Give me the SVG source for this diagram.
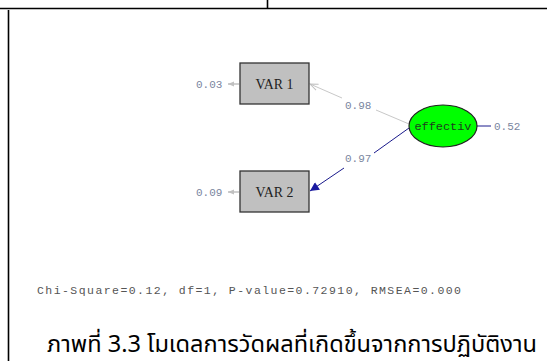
<svg xmlns="http://www.w3.org/2000/svg" width="547" height="361" viewBox="0 0 547 361">
<defs>
<style>
.frame{stroke:#000;stroke-width:1.6;fill:none}
.box{fill:#c0c0c0;stroke:#333;stroke-width:1.3}
.vtxt{font-family:"Liberation Serif",serif;font-size:15px;fill:#222;text-anchor:middle}
.num{font-family:"Liberation Mono",monospace;font-size:11px;fill:#7a86a0}
.err{stroke:#c0c0c0;stroke-width:1.5;fill:none}
.gray{stroke:#c8c8c8;stroke-width:1;fill:none}
.navy{stroke:#1a1a8c;stroke-width:1;fill:none}
</style>
<marker id="ah-gray" viewBox="0 0 10 10" refX="10" refY="5" markerWidth="10" markerHeight="8" orient="auto" markerUnits="userSpaceOnUse">
<path d="M0,1 L10,5 L0,9" fill="none" stroke="#c0c0c0" stroke-width="1.2"/>
</marker>
<marker id="ah-navy" viewBox="0 0 10 10" refX="10" refY="5" markerWidth="12" markerHeight="9" orient="auto" markerUnits="userSpaceOnUse">
<path d="M0,0 L10,5 L0,10 z" fill="#1a1aa0"/>
</marker>
<marker id="ah-err" viewBox="0 0 10 10" refX="10" refY="5" markerWidth="6" markerHeight="6" orient="auto" markerUnits="userSpaceOnUse">
<path d="M0,1 L10,5 L0,9 z" fill="#c0c0c0"/>
</marker>
</defs>
<rect width="547" height="361" fill="#fff"/>
<g id="frame">
<line class="frame" x1="0" y1="8.5" x2="547" y2="8.5"/>
<line class="frame" x1="267.5" y1="0" x2="267.5" y2="8"/>
<line class="frame" x1="8.5" y1="10" x2="8.5" y2="361"/>
</g>
<g id="connectors">
<line class="gray" x1="409" y1="124" x2="376" y2="110"/>
<line class="gray" x1="342" y1="98" x2="310" y2="84" marker-end="url(#ah-gray)"/>
<line class="navy" x1="409" y1="128" x2="374" y2="153"/>
<line class="navy" x1="344" y1="168" x2="310" y2="191" marker-end="url(#ah-navy)"/>
<line class="navy" x1="477" y1="126" x2="491" y2="126"/>
<line class="err" x1="239" y1="84" x2="228" y2="84" marker-end="url(#ah-err)"/>
<line class="err" x1="239" y1="192" x2="228" y2="192" marker-end="url(#ah-err)"/>
<text class="num" x="345" y="109">0.98</text>
<text class="num" x="345" y="162">0.97</text>
</g>
<g id="var1">
<rect class="box" x="240" y="63" width="69" height="41"/>
<text class="vtxt" x="274.5" y="89" textLength="38" lengthAdjust="spacingAndGlyphs">VAR 1</text>
<text class="num" x="196" y="88">0.03</text>
</g>
<g id="var2">
<rect class="box" x="240" y="171" width="69" height="41"/>
<text class="vtxt" x="274.5" y="197" textLength="38" lengthAdjust="spacingAndGlyphs">VAR 2</text>
<text class="num" x="196" y="196">0.09</text>
</g>
<g id="effectiv">
<ellipse cx="443" cy="126" rx="34" ry="21" fill="#00ff00" stroke="#222" stroke-width="1.2"/>
<text x="443" y="130" text-anchor="middle" font-family="Liberation Mono,monospace" font-size="11.5" fill="#1f3a1f" textLength="57" lengthAdjust="spacingAndGlyphs">effectiv</text>
<text class="num" x="494" y="130">0.52</text>
</g>
<g id="caption">
<text x="37" y="294" font-family="Liberation Mono,monospace" font-size="11.5" fill="#555" textLength="424" lengthAdjust="spacing">Chi-Square=0.12, df=1, P-value=0.72910, RMSEA=0.000</text>
<text x="47" y="352" font-family="Noto Sans, Noto Sans Thai, DejaVu Sans, sans-serif" font-size="23" fill="#000" textLength="490" lengthAdjust="spacingAndGlyphs">ภาพที่ 3.3 โมเดลการวัดผลที่เกิดขึ้นจากการปฏิบัติงาน</text>
</g>
</svg>
